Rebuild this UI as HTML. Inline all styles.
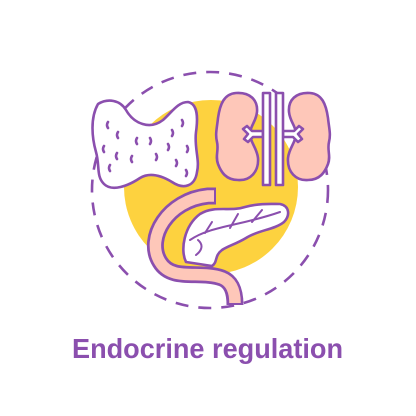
<!DOCTYPE html>
<html><head><meta charset="utf-8"><style>
html,body{margin:0;padding:0;background:#fff;}
svg{display:block;}
</style></head><body>
<svg width="416" height="416" viewBox="0 0 416 416">
  <rect width="416" height="416" fill="#fff"/>
  <circle cx="211" cy="187" r="87" fill="#fdd23f"/>
  <circle cx="210" cy="190" r="118" fill="none" stroke="#8b4fae" stroke-width="2.6" stroke-dasharray="13 10"/>
  <g stroke="#8b4fae" stroke-width="2.6" stroke-linejoin="round" stroke-linecap="round">
    <path fill="#fff" d="M98 104 C108 98,120 100,126 110 C134 124,150 130,163 120 C172 112,178 102,188 102 C198 104,198 118,196 132 C194 148,200 160,197 172 C195 186,184 190,172 182 C162 176,150 172,140 178 C128 186,112 192,104 184 C96 176,100 166,96 152 C92 138,90 118,98 104 Z"/>
    <g fill="none">
      <path d="M108 122 q-2 3 0 6"/><path d="M118 132 q-2 3 0 6"/><path d="M104 146 q-2 3 0 6"/>
      <path d="M117 153 q-2 3 0 6"/><path d="M110 165 q-2 3 0 6"/><path d="M137 138 q-2 3 0 6"/>
      <path d="M132 156 q-2 3 0 6"/><path d="M150 138 q2 3 0 6"/><path d="M156 154 q2 3 0 6"/>
      <path d="M172 130 q2 3 0 6"/><path d="M182 120 q2 3 0 6"/><path d="M168 144 q2 3 0 6"/>
      <path d="M187 146 q2 3 0 6"/><path d="M176 160 q2 3 0 6"/><path d="M186 170 q2 3 0 6"/>
    </g>
    <path fill="#fec7b9" d="M236 93 C250 92,258 100,257 112 C256 122,250 126,250 134 C250 142,257 148,258 158 C259 172,250 181,238 180 C226 180,221 172,218 164 C215 156,219 150,217 142 C215 134,217 128,218 118 C220 104,224 94,236 93 Z"/>
    <path fill="#fec7b9" d="M310 93 C296 92,288 100,289 112 C290 122,296 126,296 134 C296 142,289 148,288 158 C287 172,296 181,308 180 C320 180,325 172,328 164 C331 156,327 150,329 142 C331 134,329 128,328 118 C326 104,322 94,310 93 Z"/>
    <path fill="#fff" d="M263 131 L252 131 L247 126 L243 129 L248 134 L244 139 L248 142 L253 137 L263 137 Z"/>
    <path fill="#fff" d="M283 131 L294 131 L299 126 L303 129 L298 134 L302 139 L298 142 L293 137 L283 137 Z"/>
    <rect x="263" y="93" width="7" height="92" fill="#fff"/>
    <rect x="276" y="93" width="7" height="92" fill="#fff"/>
    <path fill="#fff" d="M200 214 C215 205,230 212,245 207 C260 203,272 204,280 204 C290 206,290 216,284 222 C274 230,258 230,246 238 C236 244,228 246,222 250 C214 256,218 262,212 266 L186 262 C180 250,184 226,200 214 Z"/>
    <g fill="none" stroke-width="2">
      <path d="M190 240 C210 226,240 226,280 212"/><path d="M230 228 L238 214"/><path d="M252 222 L262 210"/><path d="M205 233 L212 222"/><path d="M198 240 C205 246,200 252,196 255"/>
    </g>
    <path fill="none" stroke="#8b4fae" stroke-width="17" stroke-linecap="butt" d="M216 196 L208 196 C168 200,145 238,160 262 C172 282,200 270,222 278 C232 282,235 292,235 305"/>
    <path fill="none" stroke="#fec7b9" stroke-width="11.5" stroke-linecap="butt" d="M214 196 L208 196 C168 200,145 238,160 262 C172 282,200 270,222 278 C232 282,235 292,235 303"/>
  </g>
  <text x="72" y="358" textLength="271" lengthAdjust="spacingAndGlyphs" font-family="Liberation Sans, sans-serif" font-weight="bold" font-size="28" fill="#8b4fae">Endocrine regulation</text>
</svg>
</body></html>
